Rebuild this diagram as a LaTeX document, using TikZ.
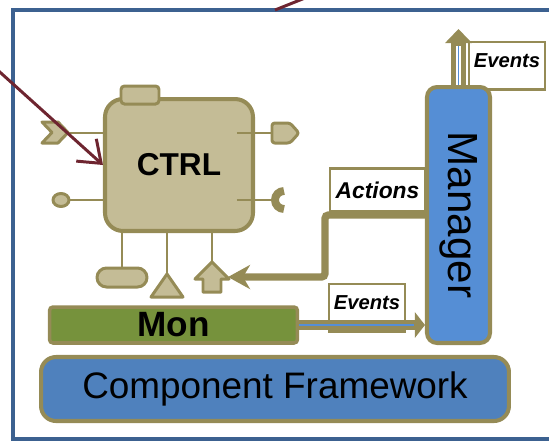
\documentclass[tikz,border=0pt]{standalone}
\usepackage{fontspec}
\setmainfont{Liberation Sans}
\usetikzlibrary{arrows.meta}

\definecolor{lineolive}{HTML}{958B56}
\definecolor{ctrlfill}{HTML}{C4BC96}
\definecolor{mongreen}{HTML}{76923C}
\definecolor{mgrblue}{HTML}{558ED5}
\definecolor{cfblue}{HTML}{4F81BD}
\definecolor{frameblue}{HTML}{3C6190}
\definecolor{ptrred}{HTML}{6E2530}

\tikzset{
	comp/.style={draw=lineolive,line width=2.3pt,inner sep=0pt},
	port/.style={draw=lineolive,line width=1.1pt},
	portshape/.style={draw=lineolive,fill=ctrlfill,line width=1.7pt,line join=round},
	tag/.style={draw=lineolive,fill=white,line width=1.3pt,inner sep=0pt,minimum width=1.52cm},
	evtag/.style={tag,text height=14.5pt,text depth=12.5pt,font=\fontsize{11.5}{12}\selectfont\bfseries\itshape},
	evshaft/.style={draw=lineolive,line width=#1},
	evcore/.style={draw=mgrblue,line width=1pt}
}

\begin{document}
\begin{tikzpicture}[x=0.02cm,y=-0.02cm]
	\useasboundingbox (0,0) rectangle (549,441);

	% outer frame
	\draw[frameblue,line width=2.3pt] (13,10) rectangle (600,439);

	% labels behind the arrows
	\node (act) at (377.5,190) [tag,minimum width=1.9cm,minimum height=0.86cm,font=\fontsize{13}{14}\selectfont\bfseries\itshape] {Actions};
	\node (evup) at (507,41) [evtag,anchor=north] {Events};
	\node (evmon) at (367,283) [evtag,anchor=north] {Events};

	% component
	\node (ctrl) at (179,165) [comp,fill=ctrlfill,rounded corners=0.36cm,minimum width=2.96cm,minimum height=2.64cm,font=\fontsize{18}{20}\selectfont\bfseries] {CTRL};
	\node (tab) at (140,95) [draw=lineolive,fill=ctrlfill,line width=1.7pt,rounded corners=2pt,minimum width=0.76cm,minimum height=0.36cm,inner sep=0pt] {};

	% ports
	\draw[port] (62,133) -- (ctrl.west |- 0,133);
	\draw[port] (62,200) -- (ctrl.west |- 0,200);
	\draw[port] (237,133) -- (274,133);
	\draw[port] (237,200) -- (276,200);
	\draw[port] (122,233) -- (122,268);
	\draw[port] (167,233) -- (167,276);
	\draw[port] (212,233) -- (212,264);

	\draw[portshape] (42,122) -- (58,122) -- (68,132.5) -- (58,143) -- (42,143) -- (52,132.5) -- cycle;
	\draw[portshape] (61,200) ellipse [x radius=8,y radius=6.5];
	\draw[portshape,rounded corners=1.5pt] (272,123) -- (290,123) -- (299,133) -- (290,143) -- (272,143) -- cycle;
	\draw[lineolive,line width=4.5pt] (284,209) arc[start angle=90,end angle=270,radius=9];
	\draw[portshape,rounded corners=0.19cm] (97,268) rectangle (147,287);
	\draw[portshape] (151,297) -- (183,297) -- (167,274) -- cycle;
	\draw[portshape] (212,262) -- (229,279) -- (221,279) -- (221,292) -- (203,292) -- (203,279) -- (195,279) -- cycle;
	\coordinate (upin) at (228,277);

	% manager, monitor and framework
	\node (mgr) at (458.5,215) [comp,fill=mgrblue,rounded corners=0.2cm,minimum width=1.26cm,minimum height=5.12cm] {};
	\node (mgrtext) at (mgr.center) [rotate=-90,font=\fontsize{24}{26}\selectfont] {Manager};
	\node (mon) at (173.5,325) [draw=lineolive,fill=mongreen,line width=2pt,rounded corners=2pt,minimum width=4.96cm,minimum height=0.72cm,inner sep=0pt,font=\fontsize{20}{22}\selectfont\bfseries] {Mon};
	\node (cf) at (275,389) [comp,fill=cfblue,rounded corners=0.3cm,minimum width=9.36cm,minimum height=1.28cm,font=\fontsize{21}{24}\selectfont] {Component Framework};

	% actions back to the component
	\coordinate (bend) at (325,215);
	\draw[lineolive,line width=4.2pt,rounded corners=2pt,-{Stealth[length=0.44cm,width=0.48cm,inset=0.14cm]}] (mgr.west) -- (bend) |- (upin);

	% events
	\coordinate (evout) at (458.5,29);
	\draw[evshaft=8pt,-{Triangle[length=0.28cm,width=0.52cm]}] (mgr.north) -- (evout);
	\draw[white,line width=3pt] (mgr.north) -- (458.5,46);
	\draw[evcore] (mgr.north) -- (458.5,46);
	\draw[evshaft=5.5pt,-{Triangle[length=0.2cm,width=0.5cm]}] (mon.east) -- (mgr.west |- mon.east);
	\draw[white,line width=1.6pt] (mon.east) -- (414,325);
	\draw[evcore] (mon.east) -- (414,325);

	% pointers
	\coordinate (note) at (-8,65);
	\draw[ptrred,line width=1.7pt,-{Straight Barb[length=0.4cm,width=0.6cm]}] (note) -- (ctrl.west);
	\draw[ptrred,line width=1.7pt] (275,10) -- (315,-6);
\end{tikzpicture}
\end{document}
